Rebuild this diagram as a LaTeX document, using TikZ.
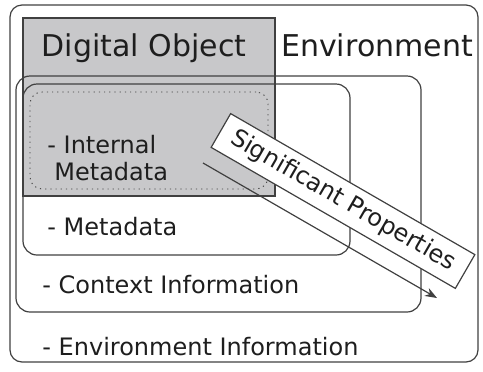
\documentclass[tikz,border=0pt]{standalone}
\usepackage{fontspec}
\setmainfont{DejaVu Sans}
\usetikzlibrary{arrows.meta}
\usepackage{xcolor}
\definecolor{objgray}{HTML}{C8C8CA}
\definecolor{linegray}{HTML}{404040}
\definecolor{textdark}{HTML}{1E1E1E}

\begin{document}
\begin{tikzpicture}[
    x=0.5pt, y=-0.5pt,
    frame/.style={draw=linegray, line width=0.6pt, rounded corners=7pt, inner sep=0pt},
    objbox/.style={draw=linegray, line width=0.6pt, fill=objgray, inner sep=0pt},
    headtext/.style={anchor=base, inner sep=0pt, text=textdark, font=\fontsize{15}{18}\selectfont},
    itemtext/.style={anchor=base west, inner sep=0pt, text=textdark, font=\fontsize{12}{13.5}\selectfont},
    sigbox/.style={draw=linegray, line width=0.6pt, fill=white, inner sep=0pt,
        text=textdark, font=\fontsize{12}{13.5}\selectfont},
    arrow/.style={-{Stealth[length=6pt,width=4.5pt]}, line width=0.6pt, draw=linegray}
]
\useasboundingbox (0,0) rectangle (483,371);
% nested areas
\node[frame, rounded corners=6pt, minimum width=234pt, minimum height=178.5pt] (env) at (244,183.5) {};
\node[objbox, minimum width=126pt, minimum height=89pt] (digobj) at (149,107) {};
\node[frame, minimum width=202.5pt, minimum height=118pt] (context) at (218.5,194) {};
\node[frame, minimum width=163.5pt, minimum height=85.5pt] (meta) at (186.5,169.5) {};
\node[frame, dotted, line width=0.45pt, rounded corners=6pt,
      minimum width=119pt, minimum height=48.5pt] (intmeta) at (149,140.5) {};
% headings
\node[headtext] (digobjlabel) at (144,56) {Digital Object};
\node[headtext] (envlabel) at (377,56) {Environment};
% items
\node[itemtext] (intlabel) at (47,153) {- Internal};
\node[itemtext] (intlabelb) at (54,180) {Metadata};
\node[itemtext] (metalabel) at (47,235) {- Metadata};
\node[itemtext] (contextlabel) at (42,293) {- Context Information};
\node[itemtext] (envinfolabel) at (42,355) {- Environment Information};
% significant properties
\coordinate (spfrom) at (203,163);
\coordinate (spto) at (437,298);
\draw[arrow] (spfrom) -- (spto);
\node[sigbox, rotate=-30, minimum width=141pt, minimum height=19.5pt] (sigprop) at (343,201) {Significant Properties};
\end{tikzpicture}
\end{document}
